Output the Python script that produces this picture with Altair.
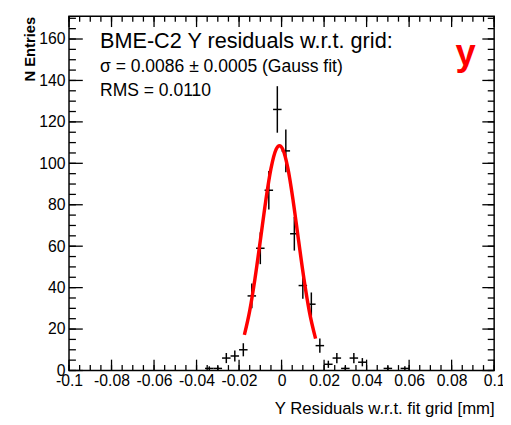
import altair as alt
import numpy as np
import pandas as pd

# Histogram (bin centres, width 0.004 mm)
bin_centers = [-0.034, -0.030, -0.026, -0.022, -0.018, -0.014, -0.010, -0.006, -0.002,
               0.002, 0.006, 0.010, 0.014, 0.018, 0.022, 0.026, 0.030, 0.034, 0.038,
               0.050, 0.058]
counts = [1, 1, 6, 7, 10, 36, 59, 87, 126,
          106, 66, 41, 32, 12, 3, 6, 1, 6, 4,
          1, 1]
bin_width = 0.004

# Gaussian fit curve
fit_x = [-0.0175, -0.015, -0.0125, -0.010, -0.0075, -0.005, -0.0025, -0.001,
         0.0005, 0.003, 0.0055, 0.008, 0.0105, 0.013, 0.016]
fit_y = [17.2, 28.8, 44.4, 62.7, 81.5, 97.4, 106.9, 108.5,
         106.9, 97.4, 81.5, 62.7, 44.4, 28.8, 15.4]

x_major = [-0.1, -0.08, -0.06, -0.04, -0.02, 0, 0.02, 0.04, 0.06, 0.08, 0.1]
x_minor = [round(v, 3) for v in np.arange(-0.1, 0.1001, 0.005)]
y_major = [0, 20, 40, 60, 80, 100, 120, 140, 160]
y_minor = list(range(0, 171, 5))

hist = pd.DataFrame({"x": bin_centers, "n": counts})
err = np.sqrt(hist["n"])
hist["lo"] = (hist["n"] - err).clip(lower=0)
hist["hi"] = hist["n"] + err
hist["xl"] = hist["x"] - bin_width / 2
hist["xr"] = hist["x"] + bin_width / 2
fit = pd.DataFrame({"fx": fit_x, "fy": fit_y})

W, H = 432, 360
FONT = "Liberation Sans"
xs = alt.Scale(domain=[-0.1, 0.1], nice=False, zero=False)
ys = alt.Scale(domain=[0, 171], nice=False, zero=False)

x_lab_axis = alt.Axis(orient="bottom", values=x_major, labelExpr="'' + datum.value",
                      ticks=False, domain=False, grid=False, labelFontSize=16,
                      labelFont=FONT, labelColor="black", labelPadding=2,
                      labelFlush=False, labelOverlap=False,
                      title="Y Residuals w.r.t. fit grid [mm]", titleX=W, titleY=39,
                      titleAlign="right", titleBaseline="middle", titleFontSize=17,
                      titleFontWeight="normal", titleFont=FONT, titleColor="black")
y_lab_axis = alt.Axis(orient="left", values=y_major, ticks=False, domain=False,
                      grid=False, labelFontSize=16, labelFont=FONT, labelColor="black",
                      labelPadding=4, labelOverlap=False, labelFlush=False,
                      title="N Entries", titleX=-40, titleY=0, titleAngle=270,
                      titleAlign="right", titleBaseline="middle", titleFontSize=15,
                      titleFontWeight="bold", titleFont=FONT, titleColor="black")

# invisible layer that carries the labelled axes
axes_layer = alt.Chart(hist).mark_rule(opacity=0).encode(
    x=alt.X("x:Q", scale=xs, axis=x_lab_axis),
    y=alt.Y("lo:Q", scale=ys, axis=y_lab_axis),
    y2="hi:Q",
)
vbars = alt.Chart(hist).mark_rule(color="black", strokeWidth=1.5).encode(
    x=alt.X("x:Q", scale=xs, axis=None),
    y=alt.Y("lo:Q", scale=ys, axis=None),
    y2="hi:Q",
)
hbars = alt.Chart(hist).mark_rule(color="black", strokeWidth=1.5).encode(
    x=alt.X("xl:Q", scale=xs, axis=None),
    x2="xr:Q",
    y=alt.Y("n:Q", scale=ys, axis=None),
)
curve = alt.Chart(fit).mark_line(color="#ff0000", strokeWidth=3.5,
                                 interpolate="monotone").encode(
    x=alt.X("fx:Q", scale=xs, axis=None),
    y=alt.Y("fy:Q", scale=ys, axis=None),
)


def x_ticks(values, size):
    df = pd.DataFrame({"v": values})
    base = alt.Chart(df).mark_rule(color="black", strokeWidth=1.3)
    bottom = base.encode(x=alt.X("v:Q", scale=xs, axis=None),
                         y=alt.value(H), y2=alt.value(H - size))
    top = base.encode(x=alt.X("v:Q", scale=xs, axis=None),
                      y=alt.value(0), y2=alt.value(size))
    return [bottom, top]


def y_ticks(values, size_l, size_r):
    df = pd.DataFrame({"v": values})
    base = alt.Chart(df).mark_rule(color="black", strokeWidth=1.3)
    left = base.encode(y=alt.Y("v:Q", scale=ys, axis=None),
                       x=alt.value(0), x2=alt.value(size_l))
    right = base.encode(y=alt.Y("v:Q", scale=ys, axis=None),
                        x=alt.value(W), x2=alt.value(W - size_r))
    return [left, right]


ticks = (x_ticks(x_major, 11) + x_ticks(x_minor, 5.5)
         + y_ticks(y_major, 14, 12) + y_ticks(y_minor, 7, 6.5))


def label(text, x, y, size, color="black", weight="normal", align="left"):
    return alt.Chart(pd.DataFrame({"t": [text]})).mark_text(
        font=FONT, fontSize=size, fontWeight=weight, color=color, align=align,
        baseline="alphabetic").encode(text="t:N", x=alt.value(x), y=alt.value(y))


texts = [
    label("BME-C2 Y residuals w.r.t. grid:", 31.5, 32, 22),
    label("σ = 0.0086 ± 0.0005 (Gauss fit)", 31.5, 57, 17.8),
    label("RMS = 0.0110", 31.5, 81, 17.8),
    label("y", 403, 49.5, 37, color="#ff0000", weight="bold", align="center"),
]

chart = alt.layer(axes_layer, *ticks, vbars, hbars, curve, *texts).resolve_axis(
    x="independent", y="independent"
).properties(
    width=W, height=H,
    autosize=alt.AutoSizeParams(type="none"),
    padding={"left": 62, "top": 5, "right": 9, "bottom": 50},
    background="white",
).configure_view(stroke="black", strokeWidth=1.5)

chart.save("out.html", embed_options={"renderer": "svg", "actions": False})
